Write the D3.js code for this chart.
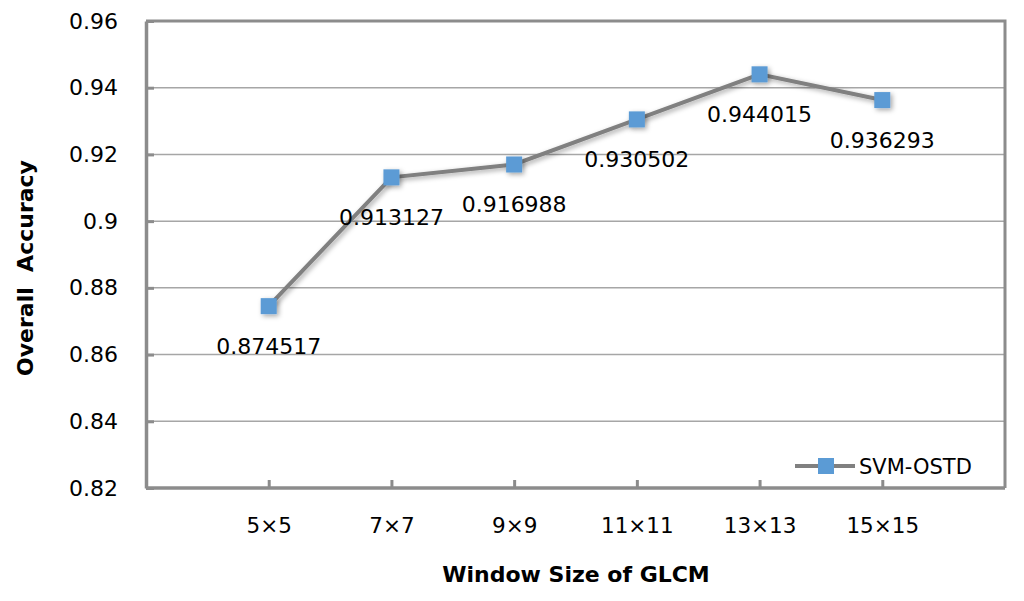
<!DOCTYPE html>
<html><head><meta charset="utf-8">
<script src="https://cdn.jsdelivr.net/npm/d3@7"></script>
<style>body{margin:0;background:#fff}svg{display:block}</style>
</head><body>
<script>
const categories = ["5×5","7×7","9×9","11×11","13×13","15×15"];
const values = [0.874517,0.913127,0.916988,0.930502,0.944015,0.936293];
const labels = ["0.874517","0.913127","0.916988","0.930502","0.944015","0.936293"];
const yTicks = [0.82,0.84,0.86,0.88,0.9,0.92,0.94,0.96];
const yTickLabels = ["0.82","0.84","0.86","0.88","0.9","0.92","0.94","0.96"];
const seriesName = "SVM-OSTD";

const W=1024,H=601;
const L=146,R=1005,T=21,B=488;
const font="'DejaVu Sans', sans-serif";
const svg=d3.select("body").append("svg").attr("width",W).attr("height",H);
const defs=svg.append("defs");
const f=defs.append("filter").attr("id","sh").attr("x","-50%").attr("y","-50%").attr("width","200%").attr("height","200%");
f.append("feDropShadow").attr("dx",2).attr("dy",2).attr("stdDeviation",2.5).attr("flood-color","#000").attr("flood-opacity",0.35);

const x=d3.scalePoint().domain(categories).range([L,R]).padding(1);
const y=d3.scaleLinear().domain([0.82,0.96]).range([B,T]);

// gridlines
svg.append("g").selectAll("line").data(yTicks.slice(1)).join("line")
  .attr("x1",L).attr("x2",R).attr("y1",d=>y(d)).attr("y2",d=>y(d))
  .attr("stroke","#a6a6a6").attr("stroke-width",1.5);
// plot border top/right
svg.append("path").attr("d",`M${L},${T}H${R}V${B}`).attr("fill","none").attr("stroke","#8c8c8c").attr("stroke-width",3);

// y axis
const ya=svg.append("g").attr("transform",`translate(${L},0)`)
  .call(d3.axisLeft(y).tickValues(yTicks).tickFormat((d,i)=>yTickLabels[i]).tickSizeInner(-8).tickSizeOuter(0).tickPadding(28));
ya.select(".domain").attr("stroke","#8c8c8c").attr("stroke-width",3.5);
ya.selectAll(".tick line").attr("stroke","#8c8c8c").attr("stroke-width",3);
ya.selectAll("text").attr("font-family",font).attr("font-size",22).attr("fill","#000");

// x axis
const xa=svg.append("g").attr("transform",`translate(0,${B})`)
  .call(d3.axisBottom(x).tickSizeInner(-8).tickSizeOuter(0).tickPadding(30));
xa.select(".domain").attr("stroke","#8c8c8c").attr("stroke-width",3.5).attr("d",`M${L},0H${R}`);
xa.selectAll(".tick line").attr("stroke","#8c8c8c").attr("stroke-width",3);
xa.selectAll("text").attr("font-family",font).attr("font-size",21.5).attr("fill","#000");

// line
const pts=categories.map((c,i)=>[x(c),y(values[i])]);
svg.append("path").attr("d",d3.line()(pts)).attr("fill","none").attr("stroke","#808080").attr("stroke-width",4).attr("filter","url(#sh)");
svg.append("g").selectAll("rect").data(pts).join("rect")
  .attr("x",d=>d[0]-8).attr("y",d=>d[1]-8).attr("width",16).attr("height",16)
  .attr("fill","#5b9bd5").attr("filter","url(#sh)");
svg.append("g").selectAll("text").data(pts).join("text")
  .attr("x",d=>d[0]).attr("y",d=>d[1]+48).attr("text-anchor","middle")
  .attr("font-family",font).attr("font-size",22).attr("fill","#000")
  .text((d,i)=>labels[i]);

// legend
const lg=svg.append("g");
lg.append("line").attr("x1",795).attr("x2",855).attr("y1",466).attr("y2",466).attr("stroke","#808080").attr("stroke-width",4);
lg.append("rect").attr("x",818).attr("y",458).attr("width",16).attr("height",16).attr("fill","#5b9bd5");
lg.append("text").attr("x",859).attr("y",474).attr("font-family",font).attr("font-size",21).attr("fill","#000").text(seriesName);

// titles
svg.append("text").attr("x",576).attr("y",582).attr("text-anchor","middle")
  .attr("font-family",font).attr("font-weight","bold").attr("font-size",22).text("Window Size of GLCM");
svg.append("text").attr("transform",`translate(33,268) rotate(-90)`).attr("text-anchor","middle")
  .attr("font-family",font).attr("font-weight","bold").attr("font-size",22).attr("xml:space","preserve").text("Overall  Accuracy");
</script>
</body></html>
